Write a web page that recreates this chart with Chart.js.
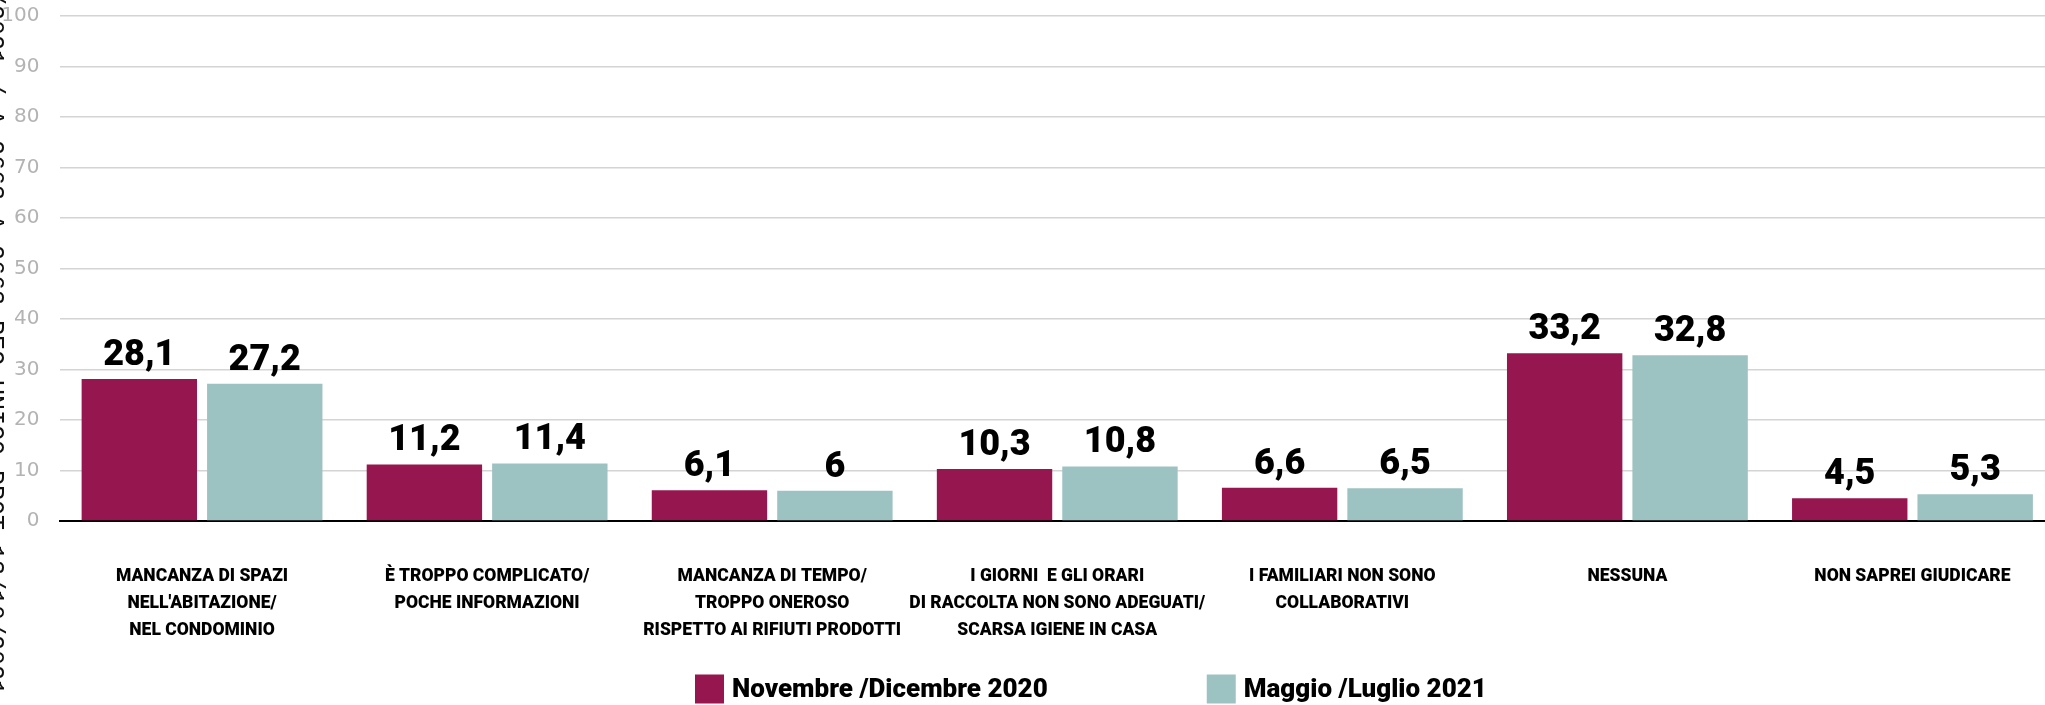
<!DOCTYPE html>
<html>
<head>
<meta charset="utf-8">
<script src="https://cdn.jsdelivr.net/npm/chart.js@4/dist/chart.umd.min.js"></script>
<style>
  html, body { margin: 0; padding: 0; overflow: hidden; background: #fff; width: 2045px; height: 705px; }
  #wrap { position: absolute; left: 0; top: 0; width: 2060px; height: 705px; }
  #stamp {
    position: absolute; left: 6px; top: -70px;
    transform-origin: 0 0; transform: rotate(90deg);
    font-family: "Liberation Mono", "DejaVu Sans Mono", monospace; font-size: 25px; line-height: 25px;
    white-space: nowrap; color: #111;
  }
</style>
</head>
<body>
<div id="wrap"><canvas id="c"></canvas></div>
<div id="stamp">0047/2021 / A 2663 A 2663 REG UNICO PROT 13/10/2021 - 0047</div>
<script>
const categories = [
  ["MANCANZA DI SPAZI", "NELL'ABITAZIONE/", "NEL CONDOMINIO"],
  ["È TROPPO COMPLICATO/", "POCHE INFORMAZIONI"],
  ["MANCANZA DI TEMPO/", "TROPPO ONEROSO", "RISPETTO AI RIFIUTI PRODOTTI"],
  ["I GIORNI  E GLI ORARI", "DI RACCOLTA NON SONO ADEGUATI/", "SCARSA IGIENE IN CASA"],
  ["I FAMILIARI NON SONO", "COLLABORATIVI"],
  "NESSUNA",
  "NON SAPREI GIUDICARE"
];
const seriesNames = ["Novembre /Dicembre 2020", "Maggio /Luglio 2021"];
const values2020 = [28.1, 11.2, 6.1, 10.3, 6.6, 33.2, 4.5];
const values2021 = [27.2, 11.4, 6.0, 10.8, 6.5, 32.8, 5.3];
const yTicks = [0, 10, 20, 30, 40, 50, 60, 70, 80, 90, 100];
const colors = ["#96174F", "#9DC2C2"];

const fmt = v => String(v).replace('.', ',');

const valueLabels = {
  id: 'valueLabels',
  afterDatasetsDraw(chart) {
    const ctx = chart.ctx;
    ctx.save();
    ctx.font = '900 36px Roboto, "Liberation Sans", sans-serif';
    ctx.fillStyle = '#000';
    ctx.textAlign = 'center';
    ctx.textBaseline = 'alphabetic';
    chart.data.datasets.forEach((ds, di) => {
      chart.getDatasetMeta(di).data.forEach((bar, i) => {
        ctx.fillText(fmt(ds.data[i]), bar.x, bar.y - 14);
      });
    });
    ctx.restore();
  }
};

const bottomLegend = {
  id: 'bottomLegend',
  afterDraw(chart) {
    const ctx = chart.ctx;
    ctx.save();
    ctx.font = '900 26px Roboto, "Liberation Sans", sans-serif';
    ctx.textBaseline = 'middle';
    ctx.textAlign = 'left';
    const box = 29, gapText = 8, gapItem = 159;
    let x = chart.chartArea.left + 635.5;
    const yMid = 689;
    chart.data.datasets.forEach((ds) => {
      ctx.fillStyle = ds.backgroundColor;
      ctx.fillRect(x, yMid - box / 2, box, box);
      x += box + gapText;
      ctx.fillStyle = '#000';
      ctx.fillText(ds.label, x, yMid + 1);
      x += ctx.measureText(ds.label).width + gapItem;
    });
    ctx.restore();
  }
};

new Chart(document.getElementById('c'), {
  type: 'bar',
  data: {
    labels: categories,
    datasets: [
      { label: seriesNames[0], data: values2020, backgroundColor: colors[0] },
      { label: seriesNames[1], data: values2021, backgroundColor: colors[1] }
    ]
  },
  options: {
    responsive: true,
    maintainAspectRatio: false,
    animation: false,
    devicePixelRatio: 1,
    layout: { padding: { top: 16, right: 5, left: 0, bottom: 0 } },
    datasets: { bar: { categoryPercentage: 0.88, barPercentage: 0.92 } },
    plugins: {
      legend: { display: false },
      tooltip: { enabled: false }
    },
    scales: {
      x: {
        grid: { display: false, drawTicks: false },
        border: { display: true, color: '#000', width: 2 },
        ticks: {
          padding: 42,
          color: '#000',
          maxRotation: 0,
          autoSkip: false,
          font: { family: 'Roboto, "Liberation Sans", sans-serif', size: 17.5, weight: '900', lineHeight: 1.55 }
        },
        afterFit(scale) { scale.height = 184; }
      },
      y: {
        min: 0, max: 100,
        afterBuildTicks(scale) { scale.ticks = yTicks.map(v => ({ value: v })); },
        grid: { color: '#d4d4d4', lineWidth: 1.5, drawTicks: false },
        border: { display: false },
        ticks: {
          padding: 20,
          color: '#b3b3b3',
          font: { family: '"DejaVu Sans", sans-serif', size: 20, weight: 'normal' }
        },
        afterFit(scale) { scale.width = 59.5; scale.paddingTop = 0; scale.paddingBottom = 0; }
      }
    }
  },
  plugins: [valueLabels, bottomLegend]
});
</script>
</body>
</html>
